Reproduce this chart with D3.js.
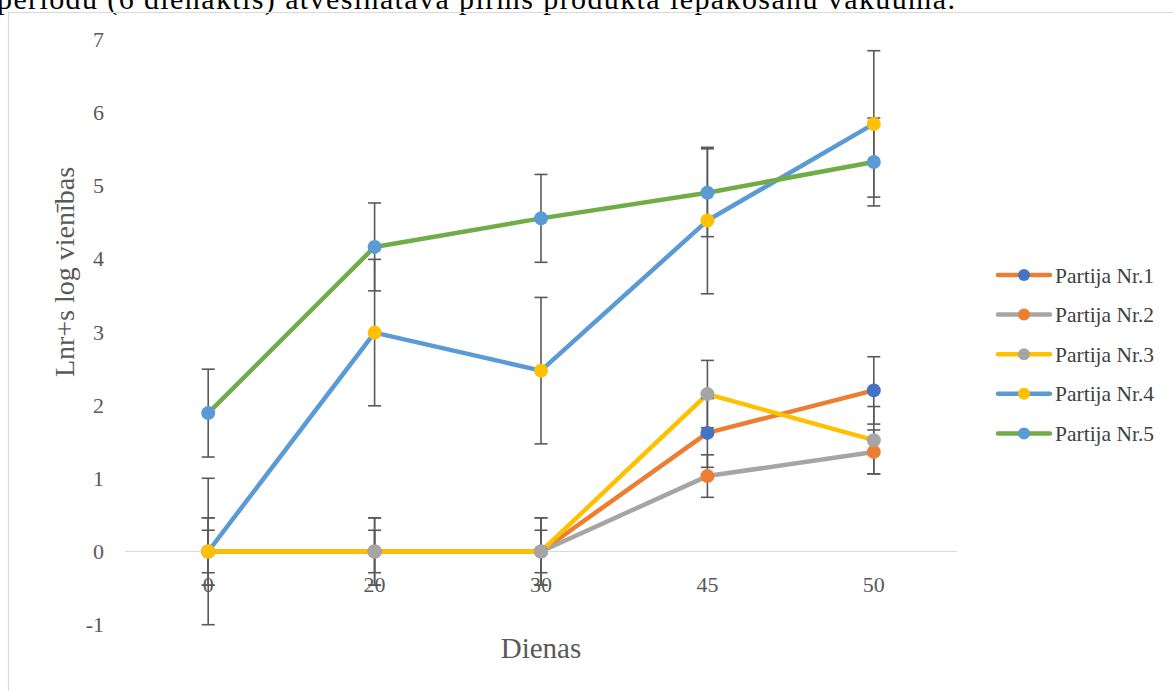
<!DOCTYPE html>
<html>
<head>
<meta charset="utf-8">
<script src="https://cdn.jsdelivr.net/npm/d3@7"></script>
<style>
  body { margin: 0; background: #fff; overflow: hidden; }
  text { font-family: "Liberation Serif", "Times New Roman", serif; }
</style>
</head>
<body>
<div id="chartDiv"></div>
<script>
const w = 1173;
const h = 691;

// data
const days = ["0", "20", "30", "45", "50"];
const seriesNames = ["Partija Nr.1", "Partija Nr.2", "Partija Nr.3", "Partija Nr.4", "Partija Nr.5"];
const p1 = [0, 0, 0, 1.62, 2.2];
const p2 = [0, 0, 0, 1.03, 1.36];
const p3 = [0, 0, 0, 2.15, 1.52];
const p4 = [0, 2.99, 2.47, 4.52, 5.84];
const p5 = [1.89, 4.16, 4.55, 4.9, 5.32];
const e1 = [0.46, 0.46, 0.46, 0.47, 0.46];
const e2 = [0.29, 0.29, 0.29, 0.29, 0.3];
const e3 = [0.46, 0.46, 0.46, 0.46, 0.46];
const e4 = [1, 1, 1, 1, 1];
const e5 = [0.6, 0.6, 0.6, 0.6, 0.6];
const yTicks = [-1, 0, 1, 2, 3, 4, 5, 6, 7];

const lineColors = ["#ED7D31", "#A5A5A5", "#FFC000", "#5B9BD5", "#70AD47"];
const markerColors = ["#4472C4", "#ED7D31", "#A5A5A5", "#FFC000", "#5B9BD5"];

const series = [p1, p2, p3, p4, p5].map((vals, i) => ({
   name: seriesNames[i],
   values: vals.map((v, j) => ({ day: days[j], v: v, err: [e1, e2, e3, e4, e5][i][j] })),
   line: lineColors[i],
   marker: markerColors[i]
}));

const svg = d3.select("#chartDiv")
              .append("svg")
              .attr("width", w)
              .attr("height", h);

// caption text, cut off at the top like in the source page
svg.append("text")
   .attr("x", -3)
   .attr("y", 9)
   .attr("font-size", "30px")
   .attr("fill", "#000")
   .attr("textLength", 958)
   .attr("lengthAdjust", "spacing")
   .text("periodu (6 dienaktis) atvēsinātavā pirms produkta iepakošanu vakuumā.");

// chart frame
svg.append("path")
   .attr("d", `M8.5,${h} V12.5 H${w}`)
   .attr("fill", "none")
   .attr("stroke", "#d9d9d9")
   .attr("stroke-width", 1.2);

const xScale = d3.scaleBand().domain(days).range([125, 957]);
const yScale = d3.scaleLinear().domain([-1, 7]).range([624.7, 39]);
const cx = d => xScale(d) + xScale.bandwidth() / 2;

// zero line
svg.append("line")
   .attr("x1", 125).attr("x2", 957)
   .attr("y1", yScale(0)).attr("y2", yScale(0))
   .attr("stroke", "#d9d9d9")
   .attr("stroke-width", 1.2);

// y tick labels
svg.append("g")
   .selectAll("text")
   .data(yTicks)
   .enter()
   .append("text")
   .attr("x", 104)
   .attr("y", d => yScale(d))
   .attr("dy", "0.35em")
   .attr("text-anchor", "end")
   .attr("font-size", "22px")
   .attr("fill", "#595959")
   .text(d => d);

// x tick labels
svg.append("g")
   .selectAll("text")
   .data(days)
   .enter()
   .append("text")
   .attr("x", d => cx(d))
   .attr("y", 592)
   .attr("text-anchor", "middle")
   .attr("font-size", "22px")
   .attr("fill", "#595959")
   .text(d => d);

// axis titles
svg.append("text")
   .attr("x", 541)
   .attr("y", 658)
   .attr("text-anchor", "middle")
   .attr("font-size", "29px")
   .attr("fill", "#595959")
   .text("Dienas");

svg.append("text")
   .attr("transform", "translate(74, 272) rotate(-90)")
   .attr("text-anchor", "middle")
   .attr("font-size", "28px")
   .attr("fill", "#595959")
   .text("Lnr+s log vienības");

const line = d3.line()
   .x(d => cx(d.day))
   .y(d => yScale(d.v));

svg.append("g")
   .selectAll("path")
   .data(series)
   .enter()
   .append("path")
   .attr("d", d => line(d.values))
   .attr("fill", "none")
   .attr("stroke", d => d.line)
   .attr("stroke-width", 4.5)
   .attr("stroke-linejoin", "round")
   .attr("stroke-linecap", "round");

// error bars
const errG = svg.append("g")
   .attr("stroke", "#595959")
   .attr("stroke-width", 1.6);
series.forEach(s => {
   s.values.forEach(d => {
      const x = cx(d.day);
      const y1 = yScale(d.v + d.err);
      const y2 = yScale(d.v - d.err);
      errG.append("line").attr("x1", x).attr("x2", x).attr("y1", y1).attr("y2", y2);
      errG.append("line").attr("x1", x - 6.5).attr("x2", x + 6.5).attr("y1", y1).attr("y2", y1);
      errG.append("line").attr("x1", x - 6.5).attr("x2", x + 6.5).attr("y1", y2).attr("y2", y2);
   });
});

series.forEach(s => {
   svg.append("g")
      .selectAll("circle")
      .data(s.values)
      .enter()
      .append("circle")
      .attr("cx", d => cx(d.day))
      .attr("cy", d => yScale(d.v))
      .attr("r", 7)
      .attr("fill", s.marker);
});

// legend
const legend = svg.append("g")
   .selectAll("g")
   .data(series)
   .enter()
   .append("g")
   .attr("transform", (d, i) => `translate(0, ${275 + i * 39.6})`);

legend.append("line")
   .attr("x1", 998).attr("x2", 1050)
   .attr("y1", 0).attr("y2", 0)
   .attr("stroke", d => d.line)
   .attr("stroke-width", 4.5)
   .attr("stroke-linecap", "round");

legend.append("circle")
   .attr("cx", 1024)
   .attr("cy", 0)
   .attr("r", 6)
   .attr("fill", d => d.marker);

legend.append("text")
   .attr("x", 1055)
   .attr("y", 0)
   .attr("dy", "0.35em")
   .attr("font-size", "21.5px")
   .attr("fill", "#404040")
   .text(d => d.name);
</script>
</body>
</html>
